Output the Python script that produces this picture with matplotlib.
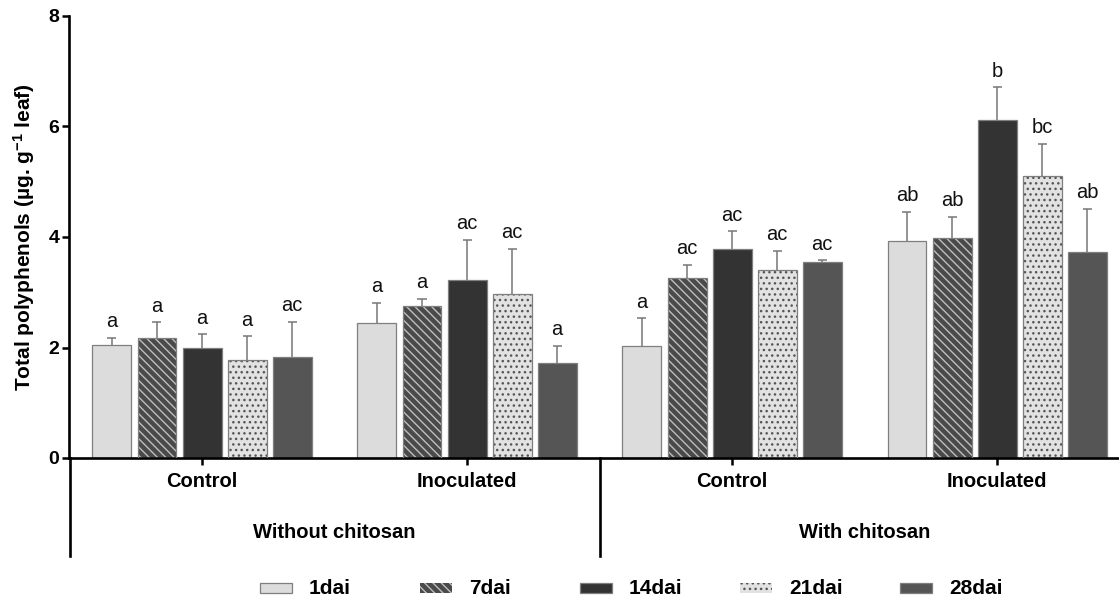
import numpy as np
import matplotlib
matplotlib.use('Agg')
import matplotlib.pyplot as plt
from matplotlib.patches import Rectangle
import matplotlib.transforms as mtransforms

plt.rcParams['font.family'] = ['Liberation Sans', 'DejaVu Sans']
plt.rcParams['mathtext.fontset'] = 'custom'
plt.rcParams['mathtext.rm'] = 'Liberation Sans'
plt.rcParams['mathtext.bf'] = 'Liberation Sans:bold'
plt.rcParams['hatch.linewidth'] = 1.0

# data
series = ['1dai', '7dai', '14dai', '21dai', '28dai']
groups = ['Control', 'Inoculated', 'Control', 'Inoculated']
supergroups = ['Without chitosan', 'With chitosan']

mean_1dai = [2.05, 2.45, 2.03, 3.93]
mean_7dai = [2.17, 2.76, 3.26, 3.98]
mean_14dai = [2.00, 3.22, 3.78, 6.11]
mean_21dai = [1.78, 2.97, 3.40, 5.10]
mean_28dai = [1.82, 1.72, 3.55, 3.73]

err_1dai = [0.13, 0.36, 0.50, 0.53]
err_7dai = [0.29, 0.12, 0.24, 0.39]
err_14dai = [0.24, 0.73, 0.32, 0.60]
err_21dai = [0.42, 0.82, 0.35, 0.59]
err_28dai = [0.65, 0.31, 0.03, 0.78]

let_1dai = ['a', 'a', 'a', 'ab']
let_7dai = ['a', 'a', 'ac', 'ab']
let_14dai = ['a', 'ac', 'ac', 'b']
let_21dai = ['a', 'ac', 'ac', 'bc']
let_28dai = ['ac', 'a', 'ac', 'ab']

means = [mean_1dai, mean_7dai, mean_14dai, mean_21dai, mean_28dai]
errs = [err_1dai, err_7dai, err_14dai, err_21dai, err_28dai]
letters = [let_1dai, let_7dai, let_14dai, let_21dai, let_28dai]

# style per series: face, hatch, hatch colour
styles = [
    ('#dcdcdc', None, None),
    ('#4a4a4a', '\\\\\\\\', '#bebebe'),
    ('#333333', None, None),
    ('#e2e2e2', '...', '#555555'),
    ('#555555', None, None),
]
edge = '#7f7f7f'

W, H = 1119, 599
fig = plt.figure(figsize=(W / 100, H / 100), dpi=100)
ax = fig.add_axes([69 / W, 141 / H, 1050 / W, 442 / H])

x = np.arange(len(groups))
step = 0.17
bw = 0.147
cap = 0.017

for i, s in enumerate(series):
    face, hatch, hcol = styles[i]
    xs = x + (i - 2) * step
    top = np.array(means[i]) + np.array(errs[i])
    if hatch:
        ax.bar(xs, means[i], bw, color=face, edgecolor=hcol, hatch=hatch, linewidth=0, zorder=2)
        ax.bar(xs, means[i], bw, fill=False, edgecolor=edge, linewidth=0.9, zorder=3)
    else:
        ax.bar(xs, means[i], bw, color=face, edgecolor=edge, linewidth=0.9, zorder=2)
    # one-sided error bars
    ax.vlines(xs, means[i], top, color='#777777', lw=1.1, zorder=1)
    ax.hlines(top, xs - cap, xs + cap, color='#777777', lw=1.1, zorder=1)
    for xx, t, l in zip(xs, top, letters[i]):
        ax.annotate(l, (xx, t), xytext=(0, 7.5), textcoords='offset points',
                    ha='center', va='baseline', fontsize=14.5, color='#111111')

ax.set_xlim(-0.502, 3.46)
ax.set_ylim(0, 8)
ax.set_yticks([0, 2, 4, 6, 8])
ax.set_yticklabels(['0', '2', '4', '6', '8'], fontsize=14, fontweight='bold')
ax.set_xticks(x)
ax.set_xticklabels(groups, fontsize=14.5, fontweight='bold')
ax.tick_params(axis='y', length=5, width=1.8, pad=2)
ax.tick_params(axis='x', length=5, width=1.8, pad=5)
for side in ['top', 'right']:
    ax.spines[side].set_visible(False)
for side in ['left', 'bottom']:
    ax.spines[side].set_linewidth(1.9)

ax.set_ylabel(r'Total polyphenols (µg. g$\mathbf{^{-1}}$ leaf)', fontsize=15, fontweight='bold')
ax.yaxis.set_label_coords(-0.03, 0.5)

# grouping lines and labels below the axis
trans = mtransforms.blended_transform_factory(ax.transData, ax.transAxes)
for xv in [-0.5, 1.5, 3.5]:
    ax.plot([xv, xv], [0, -0.222], transform=trans, color='black', lw=1.9, clip_on=False)
for k, sg in enumerate(supergroups):
    ax.text(2 * k + 0.5, -0.168, sg, transform=trans, ha='center', va='center',
            fontsize=14.5, fontweight='bold')

# legend with fixed column pitch
for i, s in enumerate(series):
    face, hatch, hcol = styles[i]
    x0 = 260 + 160 * i
    if hatch:
        r = Rectangle((x0 / W, 1 - 593 / H), 32 / W, 10 / H, transform=fig.transFigure,
                      facecolor=face, edgecolor=hcol, hatch=hatch, linewidth=0)
    else:
        r = Rectangle((x0 / W, 1 - 593 / H), 32 / W, 10 / H, transform=fig.transFigure,
                      facecolor=face, edgecolor=edge, linewidth=0.9)
    fig.add_artist(r)
    fig.text((x0 + 49) / W, 1 - 588 / H, s, ha='left', va='center', fontsize=15, fontweight='bold')

fig.savefig('out.png', dpi=100)
